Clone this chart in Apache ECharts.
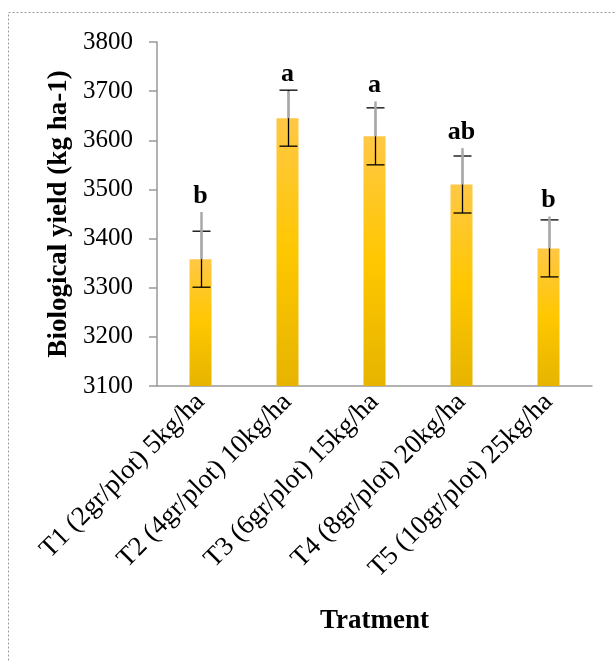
<!DOCTYPE html>
<html>
<head>
<meta charset="utf-8">
<script src="https://cdn.jsdelivr.net/npm/echarts@6/dist/echarts.min.js"></script>
<style>html,body{margin:0;padding:0;background:#fff}#c{width:616px;height:662px}</style>
</head>
<body>
<div id="c"></div>
<script>
var categories = ['T1 (2gr/plot) 5kg/ha','T2 (4gr/plot) 10kg/ha','T3 (6gr/plot) 15kg/ha','T4 (8gr/plot) 20kg/ha','T5 (10gr/plot) 25kg/ha'];
var yieldMeans = [3358, 3645, 3608, 3510, 3380];
var errorHalf = [57, 57, 58, 58, 58];
var upperLineTop = [3454, 3700, 3679, 3584, 3445];
var letters = ['b','a','a','ab','b'];
var yTicks = [3100, 3800, 100];

var FONT = '"Liberation Serif", "Times New Roman", serif';
var chart = echarts.init(document.getElementById('c'));

var errData = categories.map(function(c, i){
  return [i, yieldMeans[i], yieldMeans[i]-errorHalf[i], yieldMeans[i]+errorHalf[i], upperLineTop[i]];
});

chart.setOption({
  animation: false,
  graphic: [{
    type: 'rect', shape: {x: 8.5, y: 12.5, width: 640, height: 700},
    style: {fill: 'none', stroke: '#999', lineWidth: 1, lineDash: [2, 2]}, z: -10
  }],
  grid: {left: 157, right: 24, top: 42, bottom: 276},
  xAxis: {
    type: 'category', data: categories,
    name: 'Tratment', nameLocation: 'middle', nameGap: 222,
    nameTextStyle: {fontFamily: FONT, fontSize: 27, fontWeight: 'bold', color: '#000'},
    axisLine: {lineStyle: {color: '#999', width: 1.5}},
    axisTick: {show: false},
    axisLabel: {rotate: 45, interval: 0, margin: 12, fontFamily: FONT, fontSize: 27, color: '#000'}
  },
  yAxis: {
    type: 'value', min: yTicks[0], max: yTicks[1], interval: yTicks[2],
    name: 'Biological yield (kg ha-1)', nameLocation: 'middle', nameGap: 84,
    nameTextStyle: {fontFamily: FONT, fontSize: 27, fontWeight: 'bold', color: '#000'},
    axisLine: {show: true, lineStyle: {color: '#999', width: 1.5}},
    axisTick: {show: true, length: 8, lineStyle: {color: '#999', width: 1.5}},
    splitLine: {show: false},
    axisLabel: {margin: 24, fontFamily: FONT, fontSize: 25, color: '#000', formatter: function(v){ return String(v); }}
  },
  series: [{
    type: 'bar', data: yieldMeans, barWidth: 22,
    itemStyle: {color: new echarts.graphic.LinearGradient(0, 0, 0, 1, [
      {offset: 0, color: '#FFC845'}, {offset: 0.5, color: '#FFC700'}, {offset: 1, color: '#E6B400'}
    ])}
  }, {
    type: 'custom', data: errData, z: 10,
    renderItem: function(params, api){
      var x = api.value(0);
      var mean = api.coord([x, api.value(1)]);
      var lo = api.coord([x, api.value(2)]);
      var hi = api.coord([x, api.value(3)]);
      var top = api.coord([x, api.value(4)]);
      var cx = Math.round(mean[0]) + 0.5;
      var cw = 9;
      return {type: 'group', children: [
        {type: 'line', shape: {x1: cx, y1: lo[1], x2: cx, y2: hi[1]}, style: {stroke: '#000', lineWidth: 1.3}},
        {type: 'line', shape: {x1: cx - cw, y1: lo[1], x2: cx + cw, y2: lo[1]}, style: {stroke: '#000', lineWidth: 1.3}},
        {type: 'line', shape: {x1: cx - cw, y1: hi[1], x2: cx + cw, y2: hi[1]}, style: {stroke: '#000', lineWidth: 1.3}},
        {type: 'line', shape: {x1: cx, y1: top[1], x2: cx, y2: mean[1]}, style: {stroke: '#a8a8a8', lineWidth: 2.5}},
        {type: 'text', x: mean[0], y: Math.min(top[1], hi[1]) - 3, style: {
          text: letters[params.dataIndex], fontFamily: FONT, fontSize: 26, fontWeight: 'bold', fill: '#000',
          align: 'center', verticalAlign: 'bottom'}}
      ]};
    }
  }]
});
</script>
</body>
</html>
